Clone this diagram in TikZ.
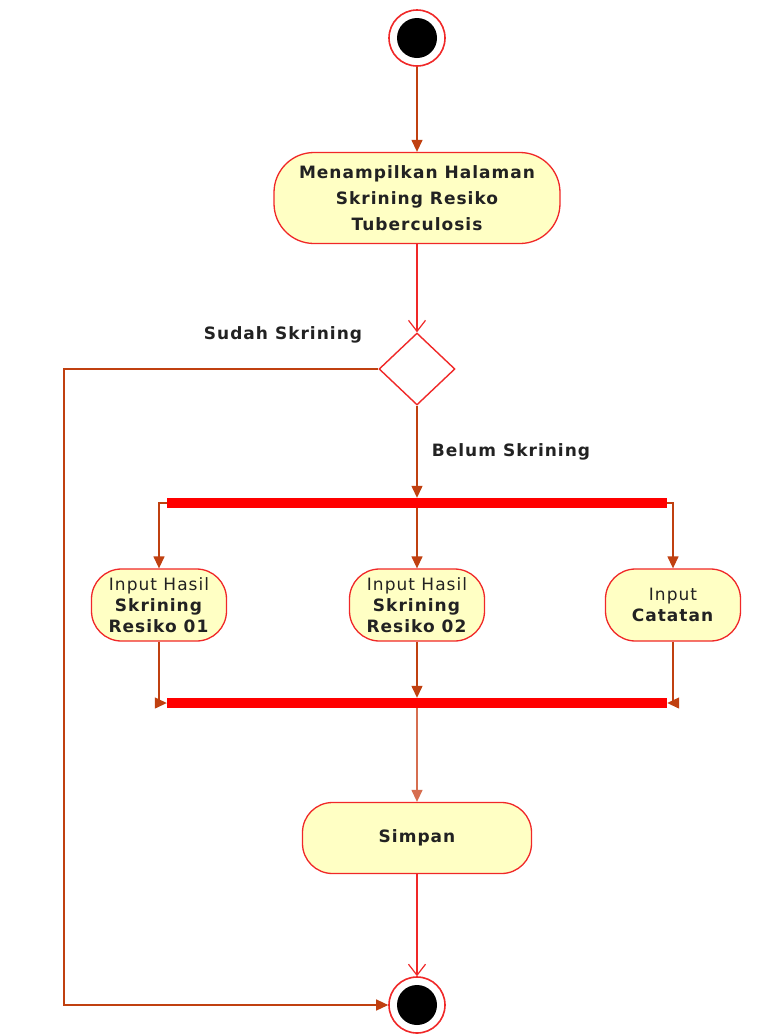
\documentclass[tikz,border=0pt]{standalone}
\usepackage{fontspec}
\setmainfont{DejaVu Sans}[LetterSpace=6]
\usetikzlibrary{arrows.meta,shapes.geometric}
\definecolor{actfill}{RGB}{255,255,196}
\definecolor{actline}{RGB}{240,40,40}
\definecolor{flow}{RGB}{192,64,16}
\definecolor{flowlight}{RGB}{214,110,80}
\definecolor{txt}{RGB}{34,34,34}
\tikzset{
  action/.style={draw=actline, line width=1.3pt, fill=actfill, align=center,
    text=txt, inner sep=0pt},
  bar/.style={fill=red, draw=none, minimum width=500pt, minimum height=10pt, inner sep=0pt},
  flowarrow/.style={draw=flow, line width=1.3pt, -{Triangle[length=12pt,width=11pt]}},
  openarrow/.style={draw=actline, line width=1.3pt, -{Straight Barb[length=11pt,width=17pt,line width=1.2pt]}},
  guard/.style={font=\bfseries\fontsize{17}{19}\selectfont, text=txt},
  decision/.style={draw=actline, line width=1.4pt, fill=white, diamond, inner sep=0pt,
    minimum width=76pt, minimum height=72pt, aspect=1.05},
  terminal/.style={circle, draw=actline, line width=1.6pt, fill=white, minimum size=56pt, inner sep=0pt},
  smallact/.style={action, rounded corners=30pt, minimum width=135pt, minimum height=72pt,
    font=\fontsize{17}{21}\selectfont},
}
\begin{document}
\begin{tikzpicture}[x=1pt,y=-1pt]
  \useasboundingbox (0,0) rectangle (784,1034);
  \fill[white] (0,0) rectangle (784,1034);

  % start node
  \node[terminal] (start) at (417,38) {};
  \fill[black] (start.center) circle (20pt);

  % actions
  \node[action, rounded corners=40pt, minimum width=286pt, minimum height=91pt,
        font=\bfseries\fontsize{17}{26}\selectfont] (show) at (417,198)
        {Menampilkan Halaman\\Skrining Resiko\\Tuberculosis};

  \node[decision] (dec) at (417,369) {};

  \node[guard] (lsudah) at (283,335) {Sudah Skrining};
  \node[guard] (lbelum) at (511,452) {Belum Skrining};

  \node[bar] (fork) at (417,503) {};
  \node[bar] (join) at (417,703) {};

  \node[smallact] (a1) at (159,605) {Input Hasil\\\textbf{Skrining}\\\textbf{Resiko 01}};
  \node[smallact] (a2) at (417,605) {Input Hasil\\\textbf{Skrining}\\\textbf{Resiko 02}};
  \node[smallact] (a3) at (673,605) {Input\\\textbf{Catatan}};

  \node[action, rounded corners=30pt, minimum width=229pt, minimum height=71pt,
        font=\bfseries\fontsize{17}{20}\selectfont] (save) at (417,838) {Simpan};

  % end node
  \node[terminal] (end) at (417,1005) {};
  \fill[black] (end.center) circle (20pt);

  % connectors
  \coordinate (corner) at (64,1005);
  \draw[flowarrow] (start.south) -- (show.north);
  \draw[openarrow] (show.south) -- (dec.north);
  \draw[flowarrow] (dec.south) -- (fork.north);
  \draw[flowarrow] (dec.west) -| (corner) -- (end.west);

  \draw[flowarrow] (fork.west) -| (a1.north);
  \draw[flowarrow] (fork.south) -- (a2.north);
  \draw[flowarrow] (fork.east) -| (a3.north);

  \draw[flowarrow] (a1.south) |- (join.west);
  \draw[flowarrow] (a2.south) -- (join.north);
  \draw[flowarrow] (a3.south) |- (join.east);

  \draw[flowarrow, draw=flowlight] (join.south) -- (save.north);
  \draw[openarrow] (save.south) -- (end.north);
\end{tikzpicture}
\end{document}
